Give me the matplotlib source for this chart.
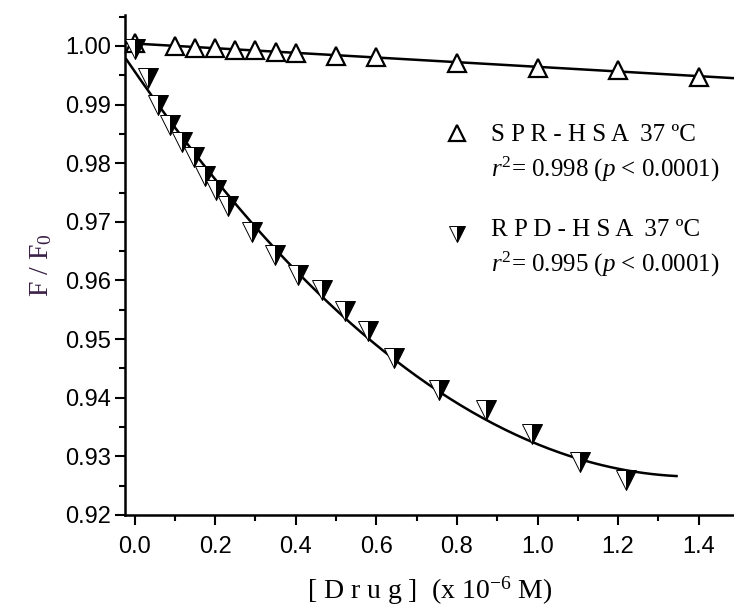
import numpy as np
import matplotlib
matplotlib.use('agg')
import matplotlib.pyplot as plt
from matplotlib.ticker import MultipleLocator

plt.rcParams['font.family'] = ['Liberation Sans', 'DejaVu Sans']
plt.rcParams['mathtext.fontset'] = 'custom'
plt.rcParams['mathtext.rm'] = 'Liberation Serif'
plt.rcParams['mathtext.it'] = 'Liberation Serif:italic'

# SPR-HSA 37 C
spr_x = [0.0, 0.1, 0.15, 0.2, 0.25, 0.3, 0.35, 0.4, 0.5, 0.6, 0.8, 1.0, 1.2, 1.4]
spr_y = [1.0005, 1.0000, 0.99974, 0.9997, 0.9994, 0.99932, 0.9990, 0.9988,
         0.9983, 0.9981, 0.99718, 0.99633, 0.99599, 0.99471]

# RPD-HSA 37 C
rpd_x = [0.0, 0.033, 0.058, 0.088, 0.118, 0.148, 0.175, 0.202, 0.232, 0.292,
         0.349, 0.406, 0.465, 0.522, 0.579, 0.644, 0.755, 0.872, 0.986, 1.105, 1.220]
rpd_y = [0.9995, 0.99454, 0.98993, 0.98652, 0.98362, 0.98106, 0.97782, 0.97543,
         0.97270, 0.96826, 0.96433, 0.96092, 0.95836, 0.95478, 0.95137, 0.94676,
         0.94130, 0.93788, 0.93379, 0.92901, 0.92594]

xticks = [0.0, 0.2, 0.4, 0.6, 0.8, 1.0, 1.2, 1.4]
yticks = [0.92, 0.93, 0.94, 0.95, 0.96, 0.97, 0.98, 0.99, 1.00]

# fits
spr_fit = np.polyfit(spr_x, spr_y, 1)
rpd_fit = np.polyfit(rpd_x, rpd_y, 2)
xs1 = np.linspace(-0.0236, 1.4876, 100)
xs2 = np.linspace(-0.02, 1.345, 200)

fig = plt.figure(figsize=(7.34, 6.09), dpi=100)
ax = fig.add_axes([0.1703, 0.1544, 0.8297, 0.8210])

ax.plot(xs1, np.polyval(spr_fit, xs1), color='black', lw=1.8, zorder=2)
ax.plot(xs2, np.polyval(rpd_fit, xs2), color='black', lw=1.8, zorder=2)

ax.plot(spr_x, spr_y, linestyle='none', marker='^', ms=13, mfc='white',
        mec='black', mew=1.6, zorder=3, clip_on=False)
ax.plot(rpd_x, rpd_y, linestyle='none', marker='v', ms=14, fillstyle='right',
        mfc='black', markerfacecoloralt='white', mec='black', mew=0.7,
        zorder=3, clip_on=False)

ax.set_xlim(-0.0236, 1.4876)
ax.set_ylim(0.92, 1.00529)
ax.set_xticks(xticks)
ax.set_yticks(yticks)
ax.set_xticklabels(['%.1f' % v for v in xticks])
ax.set_yticklabels(['%.2f' % v for v in yticks])
ax.xaxis.set_minor_locator(MultipleLocator(0.1))
ax.yaxis.set_minor_locator(MultipleLocator(0.005))
ax.tick_params(which='major', direction='out', length=7, width=1.5, labelsize=17)
ax.tick_params(axis='x', which='major', pad=8)
ax.tick_params(axis='y', which='major', pad=3)
ax.tick_params(which='minor', direction='out', length=4, width=1.5)
ax.spines['top'].set_visible(False)
ax.spines['right'].set_visible(False)
ax.spines['left'].set_linewidth(1.8)
ax.spines['bottom'].set_linewidth(1.8)

ax.set_ylabel(r'F / F$_0$', family='Liberation Serif', fontsize=20, color='#3a1f47', labelpad=8)
ax.set_xlabel(r'[ D r u g ]  (x 10$^{-6}$ M)', family='Liberation Serif', fontsize=20, labelpad=12)

# legend
ax.plot([0.545], [0.764], transform=ax.transAxes, marker='^', ms=11, mfc='white',
        mec='black', mew=1.6, linestyle='none', clip_on=False)
ax.plot([0.545], [0.562], transform=ax.transAxes, marker='v', ms=12, fillstyle='right',
        mfc='black', markerfacecoloralt='white', mec='black', mew=0.7,
        linestyle='none', clip_on=False)
lx = 0.601
ax.text(lx, 0.760, 'S P R - H S A  37 ºC', transform=ax.transAxes, family='Liberation Serif',
        fontsize=18, va='center', ha='left')
ax.text(lx, 0.692, r'$r^2$= 0.998 ($p$ < 0.0001)', transform=ax.transAxes,
        family='Liberation Serif', fontsize=18, va='center', ha='left')
ax.text(lx, 0.570, 'R P D - H S A  37 ºC', transform=ax.transAxes, family='Liberation Serif',
        fontsize=18, va='center', ha='left')
ax.text(lx, 0.502, r'$r^2$= 0.995 ($p$ < 0.0001)', transform=ax.transAxes,
        family='Liberation Serif', fontsize=18, va='center', ha='left')

fig.savefig('out.png', dpi=100)
